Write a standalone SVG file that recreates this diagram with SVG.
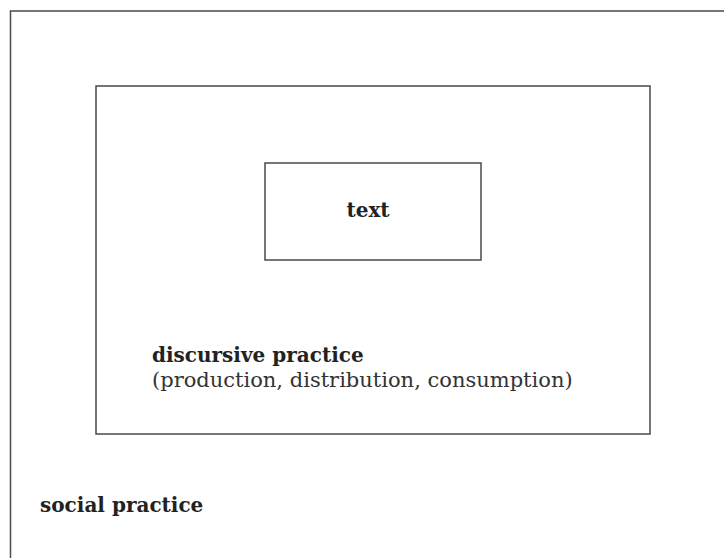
<svg xmlns="http://www.w3.org/2000/svg" width="724" height="558" viewBox="0 0 724 558">
<style>
.box{fill:none;stroke:#4a4a4a;stroke-width:1.5}
.b{font-family:"DejaVu Serif",serif;font-weight:bold;fill:#222;font-size:20px}
.r{font-family:"DejaVu Serif",serif;fill:#333;font-size:21px}
</style>
<rect width="724" height="558" fill="#fff"/>
<g id="social-practice">
<rect class="box" x="10.5" y="11" width="740" height="580"/>
<text class="b" x="40" y="512">social practice</text>
</g>
<g id="discursive-practice">
<rect class="box" x="96" y="86" width="554" height="348"/>
<text class="b" x="152" y="362">discursive practice</text>
<text class="r" x="152" y="387">(production, distribution, consumption)</text>
</g>
<g id="text">
<rect class="box" x="265" y="163" width="216" height="97"/>
<text class="b" x="368" y="217" text-anchor="middle">text</text>
</g>
<g id="connectors"/>
</svg>
